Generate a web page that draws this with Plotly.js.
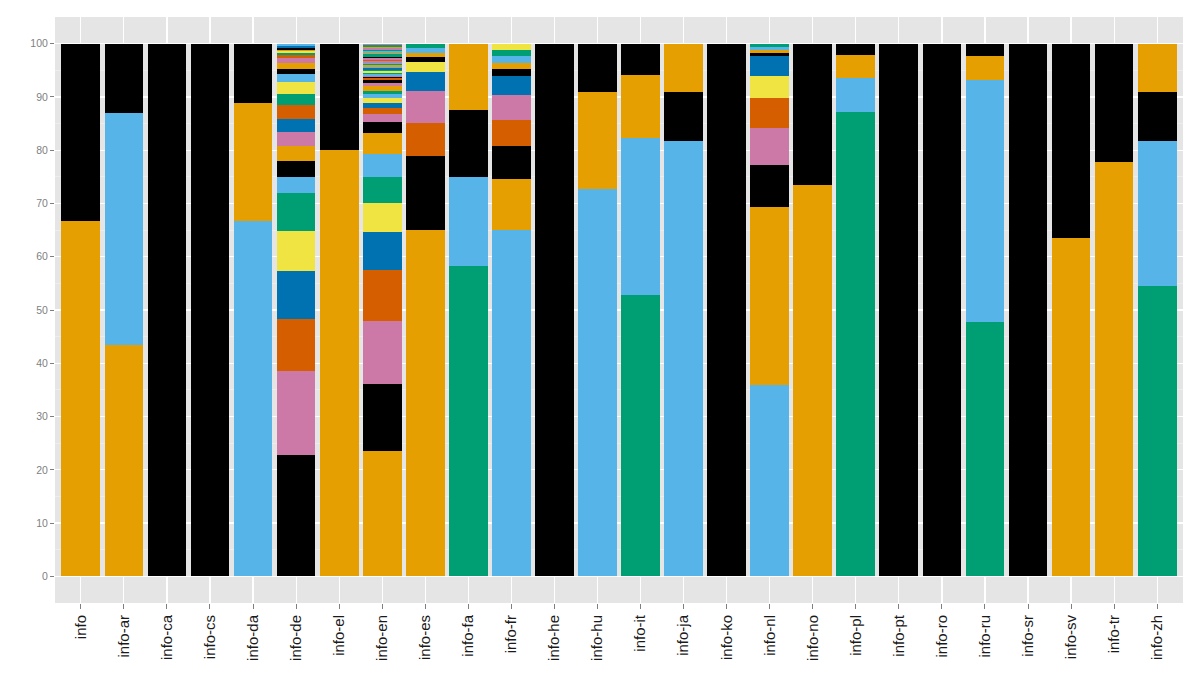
<!DOCTYPE html>
<html>
<head>
<meta charset="utf-8">
<script src="https://cdn.plot.ly/plotly-3.0.1.min.js"></script>
<style>html,body{margin:0;padding:0;background:#fff;}#chart{width:1200px;height:686px;}</style>
</head>
<body>
<div id="chart"></div>
<script>
// Categories (one bar each)
const categories = ["info","info-ar","info-ca","info-cs","info-da","info-de","info-el","info-en","info-es","info-fa","info-fr","info-he","info-hu","info-it","info-ja","info-ko","info-nl","info-no","info-pl","info-pt","info-ro","info-ru","info-sr","info-sv","info-tr","info-zh"];

// Segment heights (percent), bottom to top, per category
const segmentValues = [
  [66.7, 33.3],
  [43.5, 43.5, 13.0],
  [100],
  [100],
  [66.7, 22.2, 11.1],
  [22.7, 15.9, 9.8, 8.9, 7.5, 7.2, 3.0, 3.0, 2.8, 2.7, 2.4, 2.5, 2.1, 2.3, 1.5, 1.0, 1.1, 0.9, 0.6, 0.35, 0.35, 0.3, 0.35, 0.35, 0.4],
  [80.0, 20.0],
  [23.5, 12.6, 11.8, 9.6, 7.2, 5.4, 4.9, 4.3, 4.0, 1.9, 1.6, 1.1, 1.0, 0.9, 0.7, 0.7, 0.8, 0.6, 0.6,
   0.27, 0.27, 0.27, 0.27, 0.27, 0.27, 0.27, 0.27, 0.27, 0.27, 0.27, 0.27, 0.27, 0.27, 0.27, 0.27, 0.27, 0.27, 0.27, 0.27, 0.27, 0.27, 0.27, 0.27, 0.32],
  [65.0, 14.0, 6.1, 6.1, 3.5, 1.8, 0.9, 0.9, 0.9, 0.8],
  [58.3, 16.7, 12.5, 12.5],
  [65.0, 9.6, 6.1, 4.9, 4.8, 3.6, 1.2, 1.2, 1.2, 1.2, 1.2],
  [100],
  [72.7, 18.2, 9.1],
  [52.9, 29.4, 11.8, 5.9],
  [81.8, 9.1, 9.1],
  [100],
  [35.9, 33.5, 7.9, 6.9, 5.6, 4.1, 3.8, 0.6, 0.6, 0.55, 0.55],
  [73.4, 26.6],
  [87.2, 6.4, 4.3, 2.1],
  [100],
  [100],
  [47.7, 45.5, 4.5, 2.3],
  [100],
  [63.6, 36.4],
  [77.8, 22.2],
  [54.5, 27.3, 9.1, 9.1]
];

// Fill keys per segment, bottom to top (K black, O orange, S sky blue, G green, Y yellow, B blue, V vermillion, P pink)
const segmentFills = [
  "OK",
  "OSK",
  "K",
  "K",
  "SOK",
  "KPVBYGSKOPBVGYSKOPVGYOKBS",
  "OK",
  "OKPVBYGSOKPVBYSGOPK" + "VKPSGYGBSOGSPVPKGGOSGPOGP",
  "OKVPBYKOSG",
  "GSKO",
  "SOKVPBKOSGY",
  "K",
  "SOK",
  "GSOK",
  "SKO",
  "K",
  "SOKPVYBKOSG",
  "OK",
  "GSOK",
  "K",
  "K",
  "GSOK",
  "K",
  "OK",
  "OK",
  "GSKO"
];

const fillKeys = ["K","O","S","G","Y","B","V","P"];
const fillColors = ["#000000","#E69F00","#56B4E9","#009E73","#F0E442","#0072B2","#D55E00","#CC79A7"];

const colorOf = {};
fillKeys.forEach((k, i) => { colorOf[k] = fillColors[i]; });

const maxSeg = Math.max(...segmentValues.map(s => s.length));
const traces = [];
for (let k = 0; k < maxSeg; k++) {
  const ys = categories.map((c, i) => (k < segmentValues[i].length ? segmentValues[i][k] : 0));
  const cols = categories.map((c, i) => (k < segmentFills[i].length ? colorOf[segmentFills[i][k]] : "rgba(0,0,0,0)"));
  traces.push({
    type: "bar",
    x: categories,
    y: ys,
    marker: {color: cols, line: {width: 0}},
    showlegend: false,
    hoverinfo: "skip"
  });
}

const layout = {
  width: 1200,
  height: 686,
  barmode: "stack",
  bargap: 0.1,
  paper_bgcolor: "#FFFFFF",
  plot_bgcolor: "#E5E5E5",
  margin: {l: 55, r: 17, t: 17, b: 83},
  font: {family: "Liberation Sans, Arial, sans-serif"},
  hovermode: false,
  xaxis: {
    type: "category",
    range: [-0.6, 25.6],
    tickangle: -90,
    ticks: "outside",
    ticklen: 5,
    tickwidth: 1,
    tickcolor: "#7F7F7F",
    showgrid: true,
    gridcolor: "#FFFFFF",
    gridwidth: 1.2,
    showline: false,
    zeroline: false,
    tickfont: {size: 15, color: "#1A1A1A", family: "Liberation Sans, Arial, sans-serif"}
  },
  yaxis: {
    range: [-5, 105],
    tickvals: [0,10,20,30,40,50,60,70,80,90,100],
    ticks: "outside",
    ticklen: 4,
    tickwidth: 1,
    tickcolor: "#7F7F7F",
    showgrid: true,
    gridcolor: "#FFFFFF",
    gridwidth: 1.2,
    zeroline: false,
    showline: false,
    minor: {dtick: 5, tick0: 0, showgrid: true, gridcolor: "#F2F2F2", gridwidth: 0.6, ticks: ""},
    tickfont: {size: 10.5, color: "#7F7F7F", family: "Liberation Sans, Arial, sans-serif"}
  }
};

Plotly.newPlot("chart", traces, layout, {displayModeBar: false, staticPlot: true});
</script>
</body>
</html>
